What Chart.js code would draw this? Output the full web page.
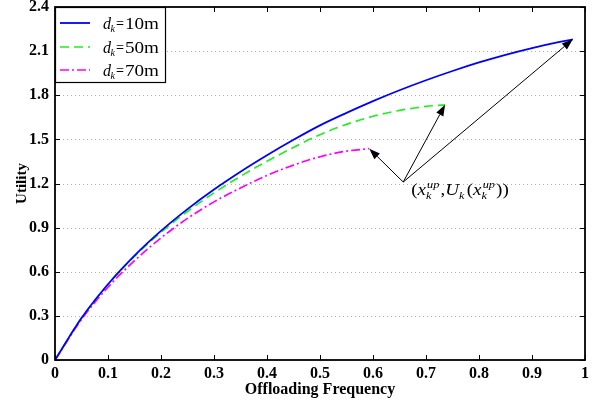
<!DOCTYPE html>
<html><head><meta charset="utf-8">
<script src="https://cdn.jsdelivr.net/npm/chart.js@4/dist/chart.umd.min.js"></script>
<style>html,body{margin:0;padding:0;background:#fff}#wrap{width:600px;height:404px}</style>
</head><body><div id="wrap"><canvas id="c" width="600" height="404"></canvas></div>
<script>
// ---- data ----
const seriesNames = ['10m', '50m', '70m'];
const xBlue  = [0, 0.05, 0.1, 0.15, 0.2, 0.25, 0.3, 0.35, 0.4, 0.45, 0.5, 0.55, 0.6, 0.65, 0.7, 0.75, 0.8, 0.85, 0.9, 0.95, 0.977];
const yBlue  = [0, 0.285, 0.515, 0.71, 0.878, 1.026, 1.159, 1.28, 1.392, 1.497, 1.595, 1.68, 1.76, 1.834, 1.902, 1.965, 2.023, 2.075, 2.121, 2.161, 2.18];
const xGreen = [0, 0.05, 0.1, 0.15, 0.2, 0.25, 0.3, 0.35, 0.4, 0.45, 0.5, 0.55, 0.6, 0.65, 0.7, 0.736];
const yGreen = [0, 0.285, 0.515, 0.705, 0.868, 1.01, 1.136, 1.249, 1.351, 1.445, 1.532, 1.602, 1.657, 1.697, 1.724, 1.735];
const xMag   = [0, 0.05, 0.1, 0.15, 0.2, 0.25, 0.3, 0.35, 0.4, 0.45, 0.5, 0.55, 0.593];
const yMag   = [0, 0.275, 0.495, 0.675, 0.83, 0.963, 1.075, 1.17, 1.255, 1.325, 1.382, 1.42, 1.437];
const xTicks = [0, 0.1, 0.2, 0.3, 0.4, 0.5, 0.6, 0.7, 0.8, 0.9, 1];
const yTicks = [0, 0.3, 0.6, 0.9, 1.2, 1.5, 1.8, 2.1, 2.4];
// annotation: label anchor and arrow origin (data units)
const annotOrigin = [0.657, 1.21];
const annotText   = [0.672, 1.12];

const pts = (xs, ys) => xs.map((x, i) => ({x, y: ys[i]}));
const SERIF = '"Liberation Serif","Times New Roman",serif';

const styles = [
  {color: '#0000ff', dash: [], width: 1.8},
  {color: '#22ee22', dash: [9, 5], width: 1.7},
  {color: '#ff00ff', dash: [9, 3, 2, 3], width: 1.7}
];

const framePlugin = {
  id: 'frame',
  beforeDatasetsDraw(chart) {
    const {ctx, chartArea: a, scales: {x, y}} = chart;
    ctx.save();
    ctx.strokeStyle = '#b0b0b0';
    ctx.lineWidth = 1;
    ctx.setLineDash([1, 3]);
    yTicks.forEach(v => {
      if (v === 0 || v === 2.4) return;
      const py = Math.round(y.getPixelForValue(v)) + 0.5;
      ctx.beginPath(); ctx.moveTo(a.left, py); ctx.lineTo(a.right, py); ctx.stroke();
    });
    ctx.restore();
  },
  afterDatasetsDraw(chart) {
    const {ctx, chartArea: a, scales: {x, y}} = chart;
    ctx.save();
    ctx.strokeStyle = '#000';
    ctx.lineWidth = 1;
    const tl = 5;
    xTicks.forEach(v => {
      const px = Math.round(x.getPixelForValue(v)) + 0.5;
      ctx.beginPath(); ctx.moveTo(px, a.bottom); ctx.lineTo(px, a.bottom - tl); ctx.stroke();
      ctx.beginPath(); ctx.moveTo(px, a.top); ctx.lineTo(px, a.top + tl); ctx.stroke();
    });
    yTicks.forEach(v => {
      const py = Math.round(y.getPixelForValue(v)) + 0.5;
      ctx.beginPath(); ctx.moveTo(a.left, py); ctx.lineTo(a.left + tl, py); ctx.stroke();
      ctx.beginPath(); ctx.moveTo(a.right, py); ctx.lineTo(a.right - tl, py); ctx.stroke();
    });
    ctx.lineWidth = 1.8;
    ctx.strokeRect(a.left, a.top, a.right - a.left, a.bottom - a.top);
    ctx.restore();
  },
  afterDraw(chart) {
    const {ctx, chartArea: a, scales: {x, y}} = chart;
    ctx.save();
    // ---- arrows to the end point of each curve ----
    const ox = x.getPixelForValue(annotOrigin[0]), oy = y.getPixelForValue(annotOrigin[1]);
    const ends = [[xBlue, yBlue], [xGreen, yGreen], [xMag, yMag]];
    ctx.strokeStyle = '#000'; ctx.fillStyle = '#000'; ctx.lineWidth = 1;
    ends.forEach(([xs, ys]) => {
      const tx = x.getPixelForValue(xs[xs.length - 1]), ty = y.getPixelForValue(ys[ys.length - 1]);
      const ang = Math.atan2(ty - oy, tx - ox);
      const hl = 11, hw = 4;
      const bx = tx - hl * Math.cos(ang), by = ty - hl * Math.sin(ang);
      ctx.beginPath(); ctx.moveTo(ox, oy); ctx.lineTo(bx, by); ctx.stroke();
      ctx.beginPath();
      ctx.moveTo(tx, ty);
      ctx.lineTo(bx + hw * Math.sin(ang), by - hw * Math.cos(ang));
      ctx.lineTo(bx - hw * Math.sin(ang), by + hw * Math.cos(ang));
      ctx.closePath(); ctx.fill();
    });
    // ---- annotation text (x_k^up, U_k(x_k^up)) ----
    const ax0 = x.getPixelForValue(annotText[0]);
    const by = y.getPixelForValue(annotText[1]);
    ctx.save();
    ctx.translate(ax0, by);
    ctx.scale(1.12, 1);
    let cx = 0;
    const big = 17, small = 11;
    ctx.textBaseline = 'alphabetic'; ctx.textAlign = 'left';
    const put = (t, style, size, dy) => {
      ctx.font = style + ' ' + size + 'px ' + SERIF;
      ctx.fillText(t, cx, dy);
      return ctx.measureText(t).width;
    };
    const supsub = () => {
      ctx.font = 'italic ' + small + 'px ' + SERIF;
      const w1 = ctx.measureText('up').width, w2 = ctx.measureText('k').width;
      ctx.fillText('up', cx + 1, -7);
      ctx.fillText('k', cx, 4);
      cx += Math.max(w1, w2) + 2;
    };
    cx += put('(', 'normal', big, 0);
    cx += put('x', 'italic', big, 0);
    supsub();
    cx += put(',', 'normal', big, 0);
    cx += put('U', 'italic', big, 0);
    ctx.font = 'italic ' + small + 'px ' + SERIF;
    ctx.fillText('k', cx, 4); cx += ctx.measureText('k').width + 2;
    cx += put('(', 'normal', big, 0);
    cx += put('x', 'italic', big, 0);
    supsub();
    cx += put('))', 'normal', big, 0);
    ctx.restore();

    // ---- legend ----
    const lx = a.left, ly = a.top, lw = 110, lh = 75;
    ctx.fillStyle = '#fff';
    ctx.fillRect(lx, ly, lw, lh);
    ctx.strokeStyle = '#000'; ctx.lineWidth = 1.2;
    ctx.strokeRect(lx + 0.5, ly + 0.5, lw, lh);
    const rows = [16, 40, 63];
    const fitText = (t, font, x0, base, w) => {
      ctx.save();
      ctx.font = font;
      const mw = ctx.measureText(t).width;
      ctx.translate(x0, base);
      ctx.scale(w / mw, 1);
      ctx.fillText(t, 0, 0);
      ctx.restore();
    };
    seriesNames.forEach((name, i) => {
      const ry = ly + rows[i];
      const s = styles[i];
      ctx.save();
      ctx.strokeStyle = s.color; ctx.lineWidth = s.width; ctx.setLineDash(s.dash);
      ctx.beginPath(); ctx.moveTo(lx + 5, ry); ctx.lineTo(lx + 35, ry); ctx.stroke();
      ctx.restore();
      ctx.fillStyle = '#000';
      const base = ry + 6;
      fitText('d', 'italic 17px ' + SERIF, lx + 48, base, 8);
      fitText('k', 'italic 10px ' + SERIF, lx + 55.5, base + 3, 4.5);
      fitText('=', 'normal 17px ' + SERIF, lx + 61, base - 0.5, 8);
      fitText(name, 'normal 17px ' + SERIF, lx + 70, base, 34);
    });
    ctx.restore();
  }
};

const datasets = [[xBlue, yBlue], [xGreen, yGreen], [xMag, yMag]].map(([xs, ys], i) => ({
  label: 'd_k = ' + seriesNames[i],
  data: pts(xs, ys),
  borderColor: styles[i].color,
  borderWidth: styles[i].width,
  borderDash: styles[i].dash,
  pointRadius: 0,
  fill: false,
  cubicInterpolationMode: 'monotone'
}));

new Chart(document.getElementById('c'), {
  type: 'line',
  data: {datasets},
  options: {
    responsive: false,
    animation: false,
    devicePixelRatio: 1,
    layout: {padding: {top: 7, right: 15, left: 0, bottom: 0}},
    plugins: {legend: {display: false}, tooltip: {enabled: false}},
    scales: {
      x: {
        type: 'linear', min: 0, max: 1,
        afterFit: s => { s.height = 44; s.paddingLeft = 0; s.paddingRight = 0; },
        afterBuildTicks: s => { s.ticks = xTicks.map(v => ({value: v})); },
        grid: {display: false, drawTicks: false},
        border: {display: false},
        ticks: {
          padding: 4, color: '#000', maxRotation: 0,
          font: {family: SERIF, size: 16, weight: 'bold'},
          callback: v => (v === 0 ? '0' : (v === 1 ? '1' : v.toFixed(1)))
        },
        title: {display: true, text: 'Offloading Frequency', color: '#000',
          font: {family: SERIF, size: 16, weight: 'bold'}, padding: {top: 0, bottom: 5}}
      },
      y: {
        type: 'linear', min: 0, max: 2.4,
        afterFit: s => { s.width = 55; s.paddingTop = 0; s.paddingBottom = 0; },
        afterBuildTicks: s => { s.ticks = yTicks.map(v => ({value: v})); },
        grid: {display: false, drawTicks: false},
        border: {display: false},
        ticks: {
          padding: 6, color: '#000',
          font: {family: SERIF, size: 16, weight: 'bold'},
          callback: v => (v === 0 ? '0' : v.toFixed(1))
        },
        title: {display: true, text: 'Utility', color: '#000',
          font: {family: SERIF, size: 15, weight: 'bold'}, padding: {top: 13, bottom: 0}}
      }
    }
  },
  plugins: [framePlugin]
});
</script>
</body></html>
